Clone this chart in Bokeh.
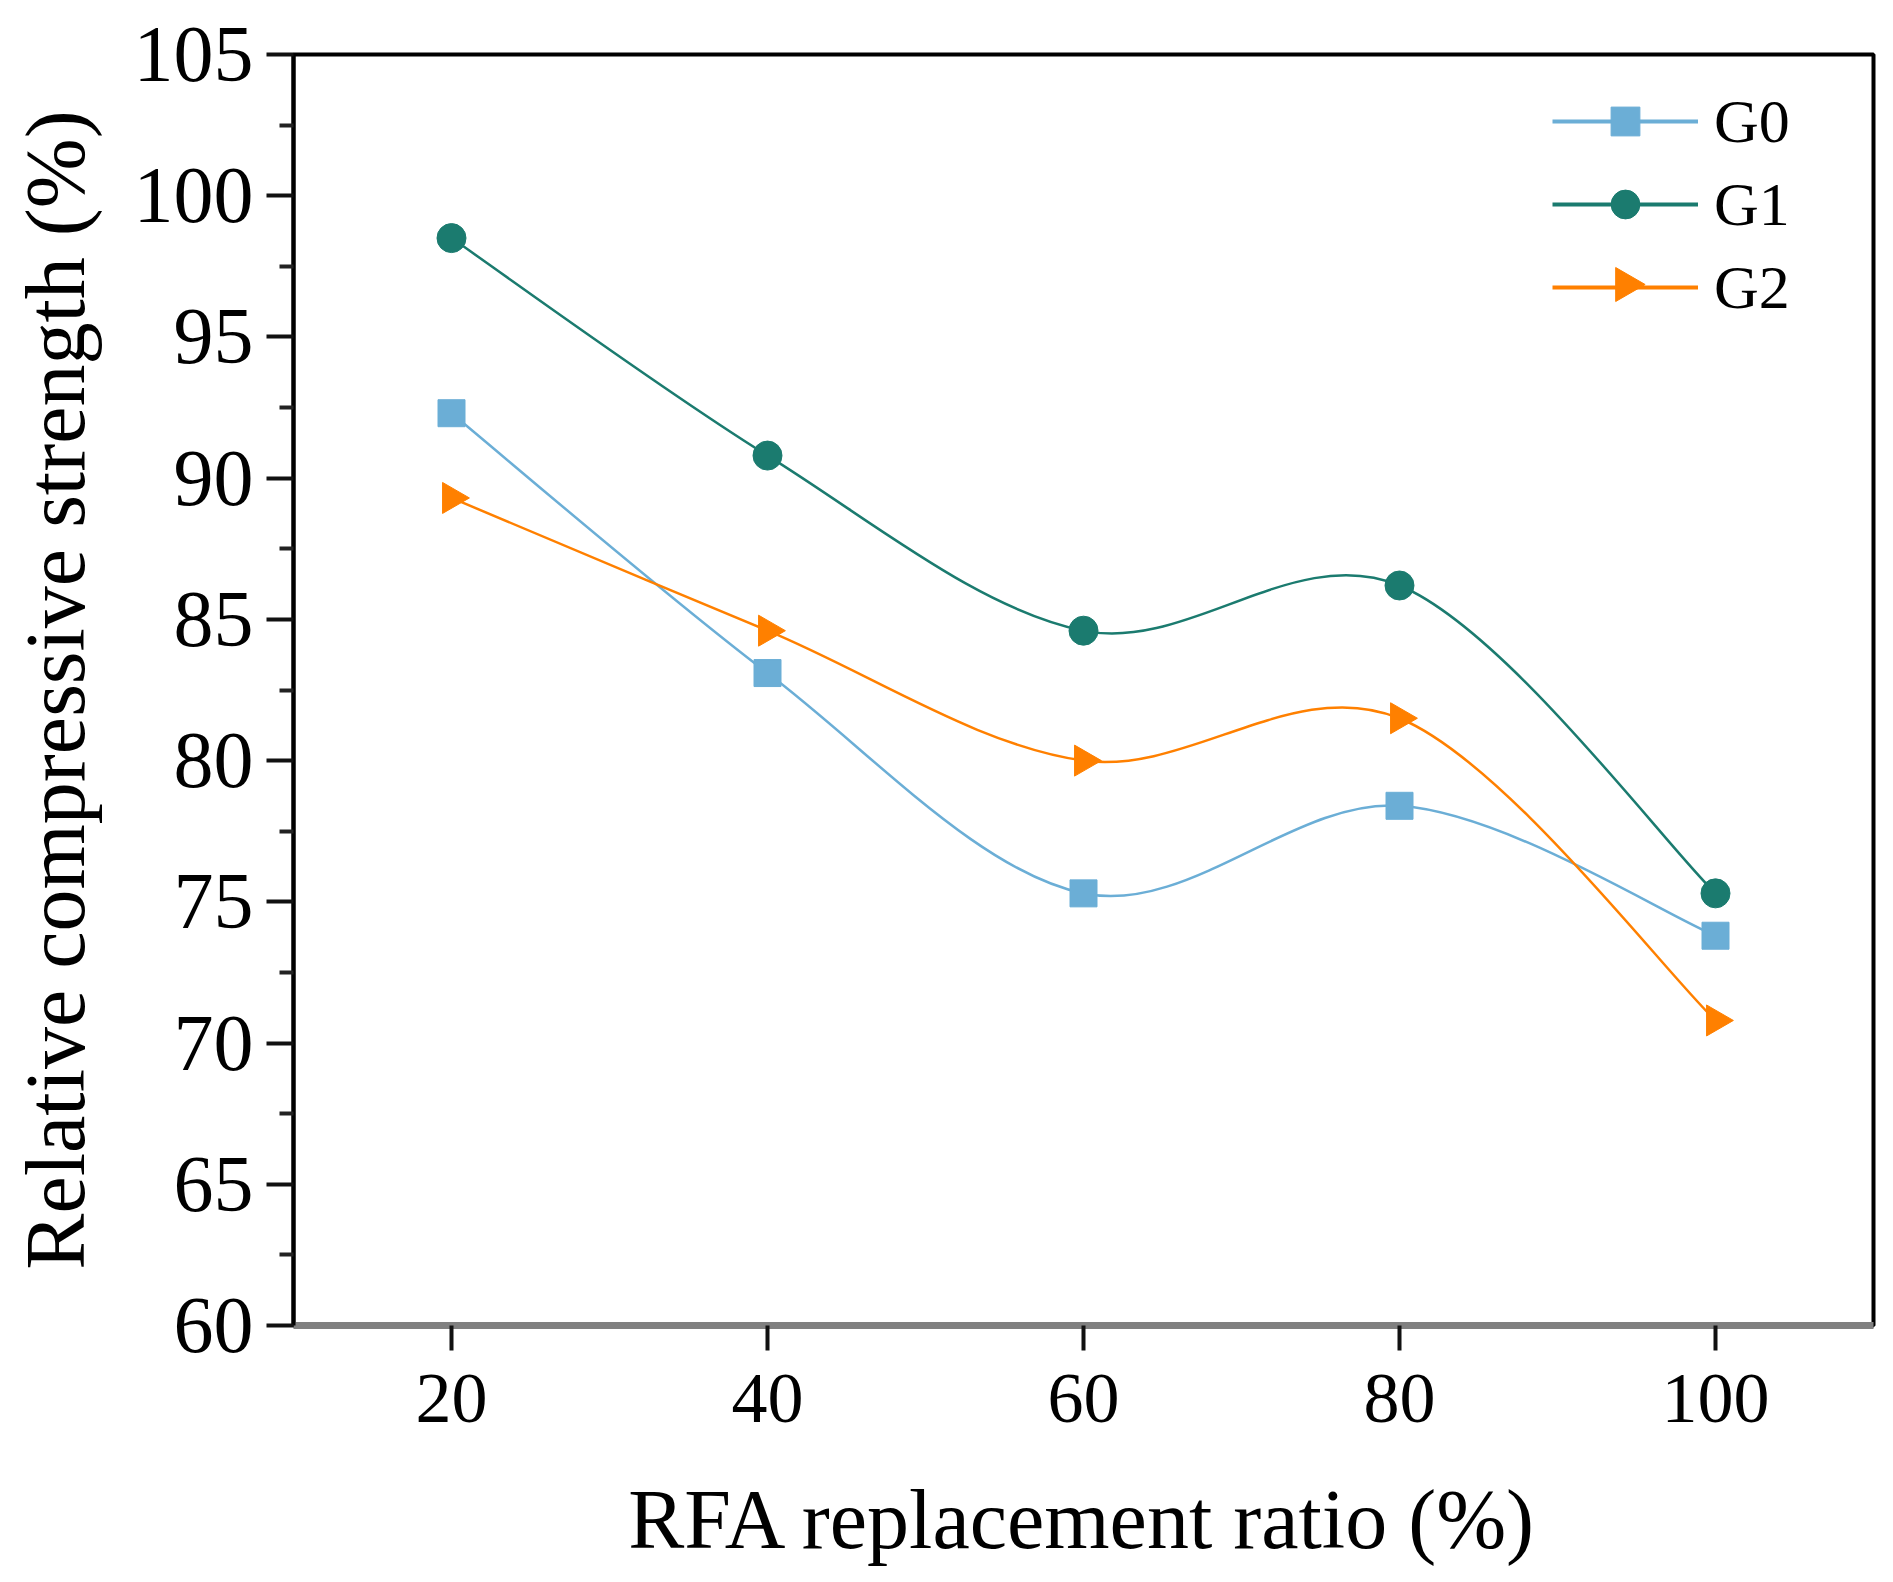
import numpy as np
from bokeh.embed import file_html
from bokeh.models import FixedTicker, Legend, LegendItem, Range1d
from bokeh.plotting import figure
from bokeh.resources import INLINE

ratio = [20, 40, 60, 80, 100]
g0 = [92.3, 83.1, 75.3, 78.4, 73.8]
g1 = [98.5, 90.8, 84.6, 86.2, 75.3]
g2 = [89.3, 84.6, 80.0, 81.5, 70.8]
series = [("G0", g0), ("G1", g1), ("G2", g2)]
colors = ["#6BAED6", "#1B7B6F", "#FF8000"]
markers = [("square", 27, 0), ("circle", 29, 0), ("triangle", 31, -np.pi / 2)]
x_ticks = [20, 40, 60, 80, 100]
y_ticks = [60, 65, 70, 75, 80, 85, 90, 95, 100, 105]

FONT = "Liberation Serif"
X0, X1, Y0, Y1 = 10, 110, 60, 105
FRAME_W, FRAME_H = 1580, 1271

# legend layout (screen px, relative to the frame)
LEG_X, LEG_Y = 1259, 1002
GLYPH_W, GLYPH_H, LEG_GAP = 146, 72, 11


def spline_controls(x, y):
    """Catmull-Rom style bezier control points, one segment per data gap."""
    x = np.asarray(x, float)
    y = np.asarray(y, float)
    n = len(x)
    xp = np.r_[x[0], x, x[-1]]
    yp = np.r_[y[0], y, y[-1]]
    cx0 = xp[1:n] + (xp[2:n + 1] - xp[0:n - 1]) / 6
    cy0 = yp[1:n] + (yp[2:n + 1] - yp[0:n - 1]) / 6
    cx1 = xp[2:n + 1] - (xp[3:n + 2] - xp[1:n]) / 6
    cy1 = yp[2:n + 1] - (yp[3:n + 2] - yp[1:n]) / 6
    return dict(x0=x[:-1], y0=y[:-1], x1=x[1:], y1=y[1:],
                cx0=cx0, cy0=cy0, cx1=cx1, cy1=cy1)


p = figure(
    frame_width=FRAME_W, frame_height=FRAME_H,
    min_border_left=293, min_border_right=4,
    min_border_top=54, min_border_bottom=236,
    output_backend="svg", toolbar_location=None,
    x_range=Range1d(X0, X1), y_range=Range1d(Y0, Y1))

p.grid.visible = False
p.outline_line_color = "black"
p.outline_line_width = 4
p.background_fill_color = "white"
p.border_fill_color = "white"

items = []
for i, ((name, vals), color, (marker, size, angle)) in enumerate(
        zip(series, colors, markers)):
    c = spline_controls(ratio, vals)
    p.bezier(line_color=color, line_width=2.5, **c)
    pts = p.scatter(ratio, vals, marker=marker, size=size, angle=angle,
                    fill_color=color, line_color=color)
    # thicker line only used for the legend swatch
    swatch = p.line([np.nan], [np.nan], line_color=color, line_width=4)
    rends = [swatch]
    if angle == 0:
        rends.append(pts)
    else:
        # legend markers ignore angle, so put the rotated marker on the swatch
        row_top = FRAME_H - LEG_Y - (3 * GLYPH_H + 2 * LEG_GAP) - 10
        cy = row_top + i * (GLYPH_H + LEG_GAP) + GLYPH_H / 2 + 7
        cx = LEG_X + GLYPH_W / 2
        p.scatter([X0 + cx / FRAME_W * (X1 - X0)],
                  [Y1 - cy / FRAME_H * (Y1 - Y0)],
                  marker=marker, size=34, angle=angle,
                  fill_color=color, line_color=color)
    items.append(LegendItem(label=name, renderers=rends))

legend = Legend(
    items=items, location=(LEG_X, LEG_Y),
    glyph_width=GLYPH_W, glyph_height=GLYPH_H, spacing=LEG_GAP, padding=10,
    label_standoff=16, label_text_font=FONT, label_text_font_size="62px",
    label_text_color="black",
    border_line_color=None, background_fill_alpha=0)
p.add_layout(legend)

# axes
p.xaxis.ticker = FixedTicker(ticks=x_ticks)
p.yaxis.ticker = FixedTicker(ticks=y_ticks,
                             minor_ticks=[v + 2.5 for v in y_ticks[:-1]])
p.xaxis.axis_label = "RFA replacement ratio (%)"
p.yaxis.axis_label = "Relative compressive strength (%)"
for ax in (p.xaxis, p.yaxis):
    ax.major_tick_line_width = 4
    ax.major_tick_line_color = "#111111"
    ax.major_tick_in = 0
    ax.minor_tick_in = 0
    ax.axis_label_text_font = FONT
    ax.axis_label_text_font_size = "84px"
    ax.axis_label_text_font_style = "normal"
    ax.axis_label_text_color = "black"
    ax.major_label_text_font = FONT
    ax.major_label_text_color = "black"

p.xaxis.axis_line_width = 7
p.xaxis.axis_line_color = "#808080"
p.xaxis.major_tick_out = 25
p.xaxis.minor_tick_line_color = None
p.xaxis.major_label_text_font_size = "72px"
p.xaxis.major_label_standoff = 24
p.xaxis.axis_label_standoff = 48

p.yaxis.axis_line_width = 4
p.yaxis.axis_line_color = "black"
p.yaxis.major_tick_out = 27
p.yaxis.minor_tick_out = 14
p.yaxis.minor_tick_line_width = 4
p.yaxis.minor_tick_line_color = "#222222"
p.yaxis.major_label_text_font_size = "80px"
p.yaxis.major_label_standoff = 13
p.yaxis.axis_label_standoff = 29

open("out.html", "w").write(file_html(p, INLINE))
